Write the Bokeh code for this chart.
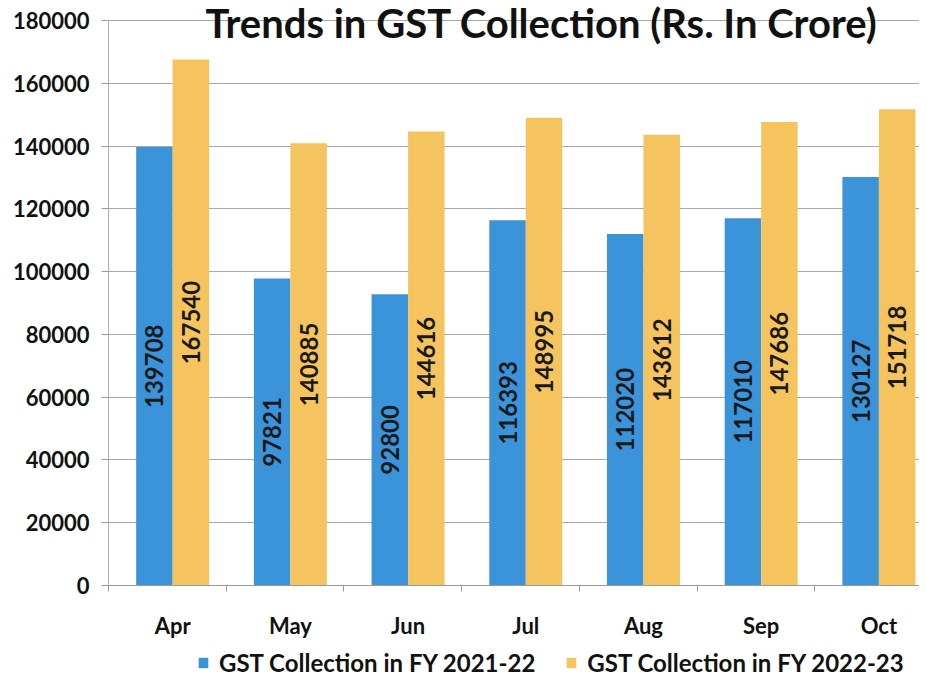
import numpy as np
from bokeh.plotting import figure
from bokeh.layouts import column
from bokeh.models import ColumnDataSource, FixedTicker, Label, Legend, LegendItem, Range1d
from bokeh.core.properties import value
from bokeh.embed import file_html
from bokeh.resources import INLINE

months = ["Apr", "May", "Jun", "Jul", "Aug", "Sep", "Oct"]
fy_2021_22 = [139708, 97821, 92800, 116393, 112020, 117010, 130127]
fy_2022_23 = [167540, 140885, 144616, 148995, 143612, 147686, 151718]
series_names = ["GST Collection in FY 2021-22", "GST Collection in FY 2022-23"]
y_ticks = [0, 20000, 40000, 60000, 80000, 100000, 120000, 140000, 160000, 180000]
title_text = "Trends in GST Collection (Rs. In Crore)"

BLUE = "#3b93da"
ORANGE = "#f6c45e"
FONT = "Lato"
TXT = "#111111"

idx = np.arange(len(months)) + 0.5
bw = 0.31
shift = 0.045
off = 0.155
y_top = 180000 * 585 / 565  # headroom above the top gridline for the title

src = ColumnDataSource(dict(
    x1=idx + shift - off, x2=idx + shift + off,
    v1=fy_2021_22, v2=fy_2022_23,
    h1=[v / 2 for v in fy_2021_22], h2=[v / 2 for v in fy_2022_23],
    t1=[str(v) for v in fy_2021_22], t2=[str(v) for v in fy_2022_23],
))

p = figure(frame_width=811, frame_height=585, output_backend="svg", toolbar_location=None,
           x_range=Range1d(0, 6.89), y_range=Range1d(0, y_top),
           min_border_left=108, min_border_right=0, min_border_top=0,
           min_border_bottom=0)
p.outline_line_color = None
p.background_fill_color = "white"

r1 = p.vbar(x="x1", top="v1", width=bw, source=src, fill_color=BLUE, line_color=None)
r2 = p.vbar(x="x2", top="v2", width=bw, source=src, fill_color=ORANGE, line_color=None)

for xc, yc, tc in (("x1", "h1", "t1"), ("x2", "h2", "t2")):
    p.text(x=xc, y=yc, text=tc, source=src, angle=np.pi / 2,
           text_align="center", text_baseline="middle",
           text_font=value(FONT), text_font_style="bold",
           text_font_size="24px", text_color="#1a1a1a")

# axes
p.xaxis.ticker = FixedTicker(ticks=list(idx + shift), minor_ticks=list(range(len(months))))
p.xaxis.major_label_overrides = {float(i + shift): m for i, m in zip(idx, months)}
p.xaxis.major_tick_out = 0
p.xaxis.major_tick_in = 0
p.xaxis.minor_tick_out = 6
p.xaxis.minor_tick_in = 0
p.xaxis.major_label_standoff = 20
p.xaxis.major_label_text_font = FONT
p.xaxis.major_label_text_font_style = "bold"
p.xaxis.major_label_text_font_size = "22px"
p.xaxis.major_label_text_color = TXT
p.xaxis.axis_line_color = "#9a9a9a"
p.xaxis.minor_tick_line_color = "#9a9a9a"

p.yaxis.ticker = FixedTicker(ticks=y_ticks)
p.yaxis.bounds = (0, 180000)
p.yaxis.minor_tick_line_color = None
p.yaxis.major_tick_out = 7
p.yaxis.major_tick_in = 0
p.yaxis.major_tick_line_color = "#9a9a9a"
p.yaxis.axis_line_color = "#b0b0b0"
p.yaxis.major_label_standoff = 12
p.yaxis.major_label_text_font = FONT
p.yaxis.major_label_text_font_style = "bold"
p.yaxis.major_label_text_font_size = "22px"
p.yaxis.major_label_text_color = TXT
p.yaxis.formatter.use_scientific = False

p.xgrid.grid_line_color = None
p.ygrid.ticker = FixedTicker(ticks=y_ticks)
p.ygrid.grid_line_color = "#a8a8a8"
p.ygrid.grid_line_width = 1

# title at the very top, as in the reference
p.add_layout(Label(x=0.824, y=179200, text=title_text, text_font=FONT,
                   text_font_style="bold", text_font_size="40px",
                   text_color=TXT, text_baseline="alphabetic"))

# legend strip below the chart (its swatches come from hidden copies of the series)
lsrc = ColumnDataSource(dict(x=idx, v1=fy_2021_22, v2=fy_2022_23))
lf = figure(width=919, height=36, output_backend="svg", toolbar_location=None,
            x_range=Range1d(0, 1), y_range=Range1d(0, 1),
            min_border=0, x_axis_type=None, y_axis_type=None)
lf.outline_line_color = None
lf.xgrid.grid_line_color = None
lf.ygrid.grid_line_color = None
e1 = lf.vbar(x="x", top="v1", width=0.1, source=lsrc, fill_color=BLUE, line_color=None, visible=False)
e2 = lf.vbar(x="x", top="v2", width=0.1, source=lsrc, fill_color=ORANGE, line_color=None, visible=False)
legend = Legend(items=[LegendItem(label=series_names[0], renderers=[e1]),
                       LegendItem(label=series_names[1], renderers=[e2])],
                orientation="horizontal", location=(89, 0),
                label_text_font=FONT, label_text_font_style="bold",
                label_text_font_size="24px", label_text_color=TXT,
                glyph_width=12, glyph_height=13, label_standoff=10,
                spacing=30, padding=4, margin=0,
                border_line_color=None, background_fill_alpha=0)
lf.add_layout(legend, "center")

layout = column(p, lf, spacing=0)
open("out.html", "w").write(file_html(layout, INLINE))
